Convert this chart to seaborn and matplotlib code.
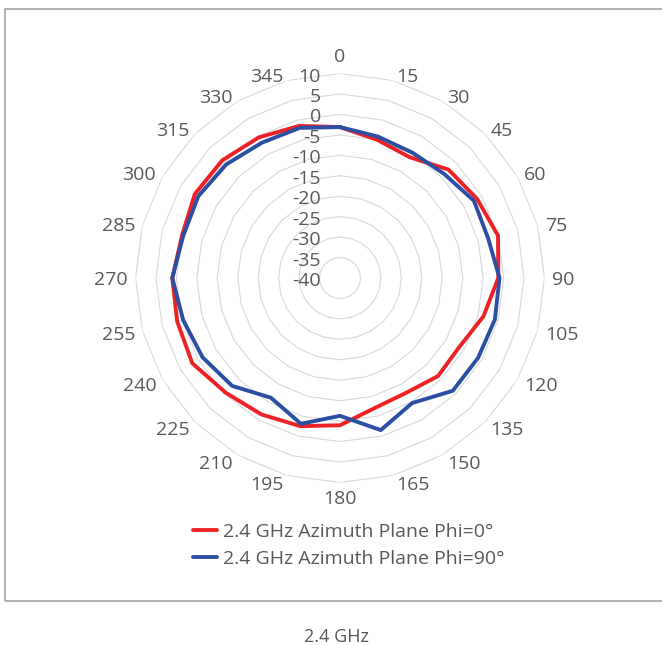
import numpy as np
import pandas as pd
import matplotlib
matplotlib.use("Agg")
import matplotlib.pyplot as plt
from matplotlib.patches import Rectangle
import seaborn as sns

# ---- data ----
angles_deg = [0, 15, 30, 45, 60, 75, 90, 105, 120, 135, 150, 165,
              180, 195, 210, 225, 240, 255, 270, 285, 300, 315, 330, 345]
phi0 = [-3.1, -5.0, -5.9, -2.5, -1.3, 0.0, -1.3, -3.7, -6.3, -6.1, -7.6, -7.1,
        -4.0, -2.5, -1.5, -0.4, 1.7, 1.2, 1.0, 0.0, 1.0, 0.7, -0.3, -1.5]
phi90 = [-3.1, -4.2, -4.6, -4.0, -2.2, -2.5, -1.0, -0.8, -1.0, -1.0, -4.7, -1.5,
         -6.3, -3.1, -6.2, -2.7, -1.2, -0.3, 1.0, -0.3, 0.0, -0.7, -1.8, -2.0]
series_names = ["2.4 GHz Azimuth Plane Phi=0\u00b0", "2.4 GHz Azimuth Plane Phi=90\u00b0"]
r_ticks = [-40, -35, -30, -25, -20, -15, -10, -5, 0, 5, 10]
title_text = "2.4 GHz"

colors = ["#EC2227", "#2C4FA3"]
grid_color = "#D9D9D9"
text_color = "#595959"

sns.set_theme(style="white")
plt.rcParams["font.family"] = ["Open Sans", "DejaVu Sans"]
FS = 14

rows = []
for name, vals in zip(series_names, [phi0, phi90]):
    th = list(np.deg2rad(angles_deg)) + [2 * np.pi]
    vv = list(vals) + [vals[0]]
    for t, v in zip(th, vv):
        rows.append({"theta": t, "dB": v, "series": name})
df = pd.DataFrame(rows)

W, H = 662, 645
fig = plt.figure(figsize=(W / 100, H / 100), dpi=100)
cx, cy, R = 340, 278, 204.5
ax = fig.add_axes([(cx - R) / W, (H - cy - R) / H, 2 * R / W, 2 * R / H], projection="polar")
ax.set_theta_zero_location("N")
ax.set_theta_direction(-1)
ax.set_ylim(r_ticks[0], r_ticks[-1])
ax.grid(False)
ax.spines["polar"].set_visible(False)
ax.set_xticks([])
ax.set_yticks([])
ax.patch.set_alpha(0)

# polygon gridlines
th_closed = np.deg2rad(angles_deg + [360])
for lvl in r_ticks[1:]:
    ax.plot(th_closed, [lvl] * len(th_closed), color=grid_color, lw=0.8, zorder=0)

sns.lineplot(data=df, x="theta", y="dB", hue="series", palette=colors, sort=False,
             estimator=None, lw=2.8, ax=ax, legend=True)
ax.set_xlabel("")
ax.set_ylabel("")

# radial labels
for lvl in r_ticks:
    ax.annotate(str(lvl), xy=(0, lvl), xytext=(-19, -3), textcoords="offset pixels",
                ha="right", va="center", fontsize=FS, color=text_color)

# angle labels placed beside the outer vertices
for a in angles_deg:
    t = np.deg2rad(a)
    s, c = np.sin(t), np.cos(t)
    if a == 0:
        off, ha = (0, 17), "center"
    elif a == 180:
        off, ha = (0, -17), "center"
    else:
        dx = 2 + 5.5 * abs(s)
        dy = 6 * c if c > 0 else 8 * c
        off = (dx if s > 0 else -dx, dy - 2)
        ha = "left" if s > 0 else "right"
    ax.annotate(str(a), xy=(t, r_ticks[-1]), xytext=off, textcoords="offset pixels",
                ha=ha, va="center", fontsize=FS, color=text_color, annotation_clip=False)

handles, labels = ax.get_legend_handles_labels()
ax.legend(handles, labels, loc="upper left", bbox_to_anchor=(193 / W, 1 - 523 / H),
          bbox_transform=fig.transFigure, frameon=False, fontsize=FS,
          labelcolor=text_color, handlelength=1.23, handletextpad=0.29,
          labelspacing=0.46, borderpad=0, borderaxespad=0)

fig.add_artist(Rectangle((5 / W, (H - 601) / H), 1.2, (601 - 9) / H, transform=fig.transFigure,
                         fill=False, edgecolor="#A6A6A6", lw=1.2))
fig.text(336 / W, 1 - 637 / H, title_text, ha="center", va="center", fontsize=13,
         color=text_color)

fig.savefig("out.png", dpi=100)
